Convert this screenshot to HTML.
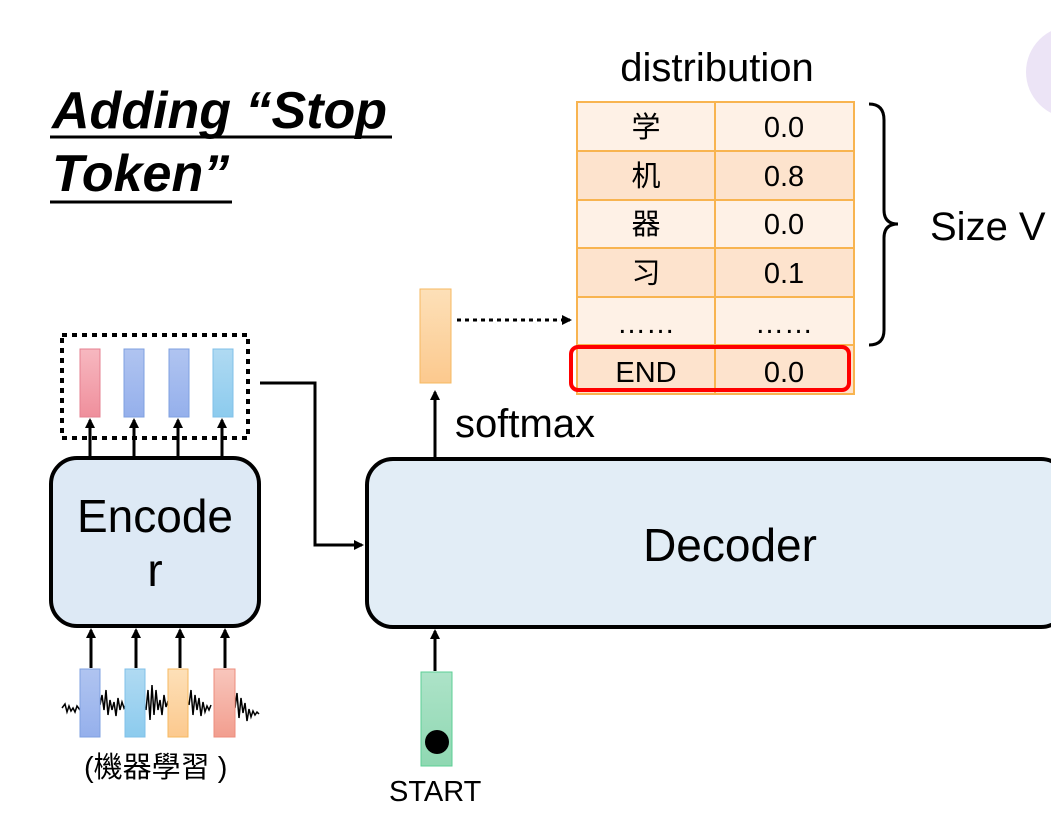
<!DOCTYPE html>
<html><head><meta charset="utf-8"><style>
html,body{margin:0;padding:0;background:#fff;width:1051px;height:840px;overflow:hidden}
text{font-family:"Liberation Sans","Noto Sans CJK SC",sans-serif}
</style></head><body>
<svg width="1051" height="840" viewBox="0 0 1051 840" xmlns="http://www.w3.org/2000/svg">
<defs>
<marker id="ah" markerWidth="10" markerHeight="10" refX="8" refY="5" orient="auto" markerUnits="userSpaceOnUse"><path d="M0,0 L10,5 L0,10 z" fill="#000"/></marker>
<linearGradient id="pink" x1="0" y1="0" x2="0" y2="1"><stop offset="0" stop-color="#f7b8c0"/><stop offset="1" stop-color="#ef8f9c"/></linearGradient>
<linearGradient id="blue" x1="0" y1="0" x2="0" y2="1"><stop offset="0" stop-color="#b0c4f0"/><stop offset="1" stop-color="#95b0ec"/></linearGradient>
<linearGradient id="lblue" x1="0" y1="0" x2="0" y2="1"><stop offset="0" stop-color="#b0daf2"/><stop offset="1" stop-color="#8ccbee"/></linearGradient>
<linearGradient id="orng" x1="0" y1="0" x2="0" y2="1"><stop offset="0" stop-color="#fde0b8"/><stop offset="1" stop-color="#fcc98e"/></linearGradient>
<linearGradient id="salm" x1="0" y1="0" x2="0" y2="1"><stop offset="0" stop-color="#f8c6bc"/><stop offset="1" stop-color="#f29e8f"/></linearGradient>
<linearGradient id="grn" x1="0" y1="0" x2="0" y2="1"><stop offset="0" stop-color="#ade3c8"/><stop offset="1" stop-color="#8fd8b2"/></linearGradient>
</defs>

<circle cx="1072" cy="72" r="46" fill="#ece4f6"/>

<text x="52" y="128" font-size="52" font-weight="bold" font-style="italic">Adding “Stop</text>
<line x1="50" y1="137" x2="392" y2="137" stroke="#000" stroke-width="3"/>
<text x="52" y="191" font-size="52" font-weight="bold" font-style="italic">Token”</text>
<line x1="50" y1="202" x2="232" y2="202" stroke="#000" stroke-width="3"/>

<!-- encoder -->
<rect x="62" y="335" width="186" height="103" fill="none" stroke="#000" stroke-width="4" stroke-dasharray="5,5"/>
<rect x="80" y="349" width="20" height="68" fill="url(#pink)" stroke="#e58090"/>
<rect x="124" y="349" width="20" height="68" fill="url(#blue)" stroke="#7fa0e0"/>
<rect x="169" y="349" width="20" height="68" fill="url(#blue)" stroke="#7fa0e0"/>
<rect x="213" y="349" width="20" height="68" fill="url(#lblue)" stroke="#80c0e8"/>
<g stroke="#000" stroke-width="3" marker-end="url(#ah)">
<line x1="90" y1="458" x2="90" y2="420"/><line x1="134" y1="458" x2="134" y2="420"/>
<line x1="178" y1="458" x2="178" y2="420"/><line x1="222" y1="458" x2="222" y2="420"/>
</g>
<rect x="51" y="458" width="208" height="168" rx="26" fill="#dde9f5" stroke="#000" stroke-width="4"/>
<text x="155" y="532" font-size="46" text-anchor="middle">Encode</text>
<text x="155" y="586" font-size="46" text-anchor="middle">r</text>
<g stroke="#000" stroke-width="3" marker-end="url(#ah)">
<line x1="91" y1="668" x2="91" y2="630"/><line x1="136" y1="668" x2="136" y2="630"/>
<line x1="180" y1="668" x2="180" y2="630"/><line x1="225" y1="668" x2="225" y2="630"/>
</g>
<path d="M62,708 l3,-4 l2,8 l2,-6 l2,5 l2,-3 l2,4 l2,-6 l3,4 M100,705 l2,-10 l2,15 l2,-20 l2,25 l2,-15 l2,10 l2,-8 l2,14 l2,-18 l2,12 l2,-8 l2,6 l2,-4 M146,710 l2,-20 l2,30 l2,-35 l2,30 l2,-25 l2,20 l2,-10 l2,15 l2,-20 l2,12 l2,-6 M189,705 l2,-15 l2,25 l2,-20 l2,15 l2,-12 l2,18 l2,-14 l2,10 l2,-6 l2,4 l2,-5 M235,708 l2,-15 l2,25 l2,-20 l2,15 l2,-10 l2,18 l2,-12 l2,8 l2,-6 l2,4 l2,-3 l2,2" stroke="#000" stroke-width="1.5" fill="none"/>
<rect x="80" y="669" width="20" height="68" fill="url(#blue)" stroke="#7fa0e0"/>
<rect x="125" y="669" width="20" height="68" fill="url(#lblue)" stroke="#80c0e8"/>
<rect x="168" y="669" width="20" height="68" fill="url(#orng)" stroke="#f6b860"/>
<rect x="214" y="669" width="21" height="68" fill="url(#salm)" stroke="#ec8c7c"/>
<text x="84" y="777" font-size="29">(機器學習 )</text>

<!-- connector -->
<path d="M260,383 L315,383 L315,545 L362,545" fill="none" stroke="#000" stroke-width="3" marker-end="url(#ah)"/>

<!-- decoder -->
<rect x="367" y="459" width="700" height="168" rx="26" fill="#e2edf6" stroke="#000" stroke-width="4"/>
<text x="730" y="561" font-size="46" text-anchor="middle">Decoder</text>
<line x1="435" y1="458" x2="435" y2="392" stroke="#000" stroke-width="3" marker-end="url(#ah)"/>
<text x="455" y="437" font-size="40">softmax</text>
<rect x="420" y="289" width="31" height="94" fill="url(#orng)" stroke="#f6b860"/>
<line x1="457" y1="320" x2="570" y2="320" stroke="#000" stroke-width="3" stroke-dasharray="4,4" marker-end="url(#ah)"/>
<line x1="435" y1="671" x2="435" y2="631" stroke="#000" stroke-width="3" marker-end="url(#ah)"/>
<rect x="421" y="672" width="31" height="94" fill="url(#grn)" stroke="#5ccf96"/>
<circle cx="437" cy="742" r="12" fill="#000"/>
<text x="389" y="801" font-size="29">START</text>

<!-- table -->
<text x="717" y="81" font-size="40" text-anchor="middle">distribution</text>
<g stroke="#f8b450" stroke-width="2">
<rect x="577" y="102" width="277" height="49" fill="#fef1e6"/>
<rect x="577" y="151" width="277" height="49" fill="#fde3cd"/>
<rect x="577" y="200" width="277" height="48" fill="#fef1e6"/>
<rect x="577" y="248" width="277" height="49" fill="#fde3cd"/>
<rect x="577" y="297" width="277" height="48" fill="#fef1e6"/>
<rect x="577" y="345" width="277" height="49" fill="#fde3cd"/>
<line x1="715" y1="102" x2="715" y2="394"/>
</g>
<g font-size="29" text-anchor="middle">
<text x="646" y="137">学</text><text x="784" y="137">0.0</text>
<text x="646" y="186">机</text><text x="784" y="186">0.8</text>
<text x="646" y="234">器</text><text x="784" y="234">0.0</text>
<text x="646" y="283">习</text><text x="784" y="283">0.1</text>
<text x="646" y="333">……</text><text x="784" y="333">……</text>
<text x="646" y="382">END</text><text x="784" y="382">0.0</text>
</g>
<rect x="571" y="347" width="278" height="43" rx="7" fill="none" stroke="#ff0000" stroke-width="4"/>
<path d="M869,104 Q884,104 884,120 L884,210 Q884,224 898,224 Q884,224 884,238 L884,330 Q884,345 869,345" fill="none" stroke="#000" stroke-width="3"/>
<text x="930" y="240" font-size="40">Size V</text>
</svg>
</body></html>
